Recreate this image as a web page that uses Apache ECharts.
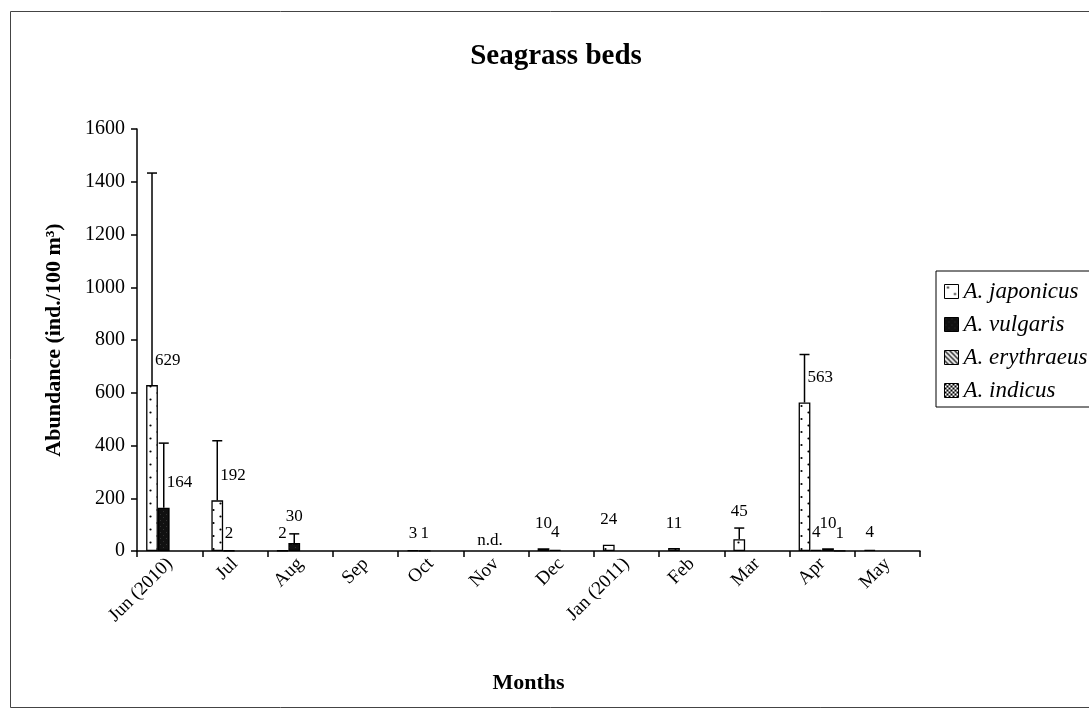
<!DOCTYPE html>
<html>
<head>
<meta charset="utf-8">
<script src="https://cdn.jsdelivr.net/npm/echarts@6/dist/echarts.min.js"></script>
<style>html,body{margin:0;padding:0;background:#fff;}#c{width:1089px;height:713px;}</style>
</head>
<body>
<div id="c"></div>
<script>
// ---- data ----
var categories = ['Jun (2010)', 'Jul', 'Aug', 'Sep', 'Oct', 'Nov', 'Dec', 'Jan (2011)', 'Feb', 'Mar', 'Apr', 'May'];
var seriesNames = ['A. japonicus', 'A. vulgaris', 'A. erythraeus', 'A. indicus'];
var japonicus  = [629, 192, 2, null, 3, null, 10, 24, 11, 45, 563, 4];
var vulgaris   = [164, 2, 30, null, 1, null, 4, null, null, null, 4, null];
var erythraeus = [null, null, null, null, null, null, null, null, null, null, 10, null];
var indicus    = [null, null, null, null, null, null, null, null, null, null, 1, null];
// upper error (SD) of each bar
var japonicusErr  = [804, 226, 0, 0, 0, 0, 0, 0, 0, 42, 182, 0];
var vulgarisErr   = [245, 0, 35, 0, 0, 0, 0, 0, 0, 0, 0, 0];
var erythraeusErr = [0, 0, 0, 0, 0, 0, 0, 0, 0, 0, 0, 0];
var indicusErr    = [0, 0, 0, 0, 0, 0, 0, 0, 0, 0, 0, 0];
var notes = ['', '', '', '', '', 'n.d.', '', '', '', '', '', ''];
var yTicks = [0, 200, 400, 600, 800, 1000, 1200, 1400, 1600];

var FONT = "'Liberation Serif', 'Times New Roman', serif";

function makeTile(w, h, draw) {
  var c = document.createElement('canvas');
  c.width = w; c.height = h;
  var ctx = c.getContext('2d');
  draw(ctx, w, h);
  return c;
}
var dotTile = makeTile(14, 13, function (ctx, w, h) {
  ctx.fillStyle = '#fff'; ctx.fillRect(0, 0, w, h);
  ctx.fillStyle = '#000';
  ctx.beginPath(); ctx.arc(3.5, 3, 1.1, 0, Math.PI * 2); ctx.fill();
  ctx.beginPath(); ctx.arc(10.5, 9.5, 1.1, 0, Math.PI * 2); ctx.fill();
});
var darkTile = makeTile(6, 6, function (ctx, w, h) {
  ctx.fillStyle = '#111'; ctx.fillRect(0, 0, w, h);
  ctx.fillStyle = '#333'; ctx.fillRect(1, 1, 1, 1); ctx.fillRect(4, 4, 1, 1);
});
var hatchTile = makeTile(5, 5, function (ctx, w, h) {
  ctx.fillStyle = '#fff'; ctx.fillRect(0, 0, w, h);
  ctx.strokeStyle = '#000'; ctx.lineWidth = 1.3;
  ctx.beginPath();
  ctx.moveTo(-1, -1); ctx.lineTo(w + 1, h + 1);
  ctx.moveTo(-1, h - 1); ctx.lineTo(1, h + 1);
  ctx.moveTo(w - 1, -1); ctx.lineTo(w + 1, 1);
  ctx.stroke();
});
var checkTile = makeTile(4, 4, function (ctx, w, h) {
  ctx.fillStyle = '#fff'; ctx.fillRect(0, 0, w, h);
  ctx.fillStyle = '#000';
  ctx.fillRect(0, 0, 2, 2); ctx.fillRect(2, 2, 2, 2);
});
var fills = [
  { image: dotTile, repeat: 'repeat' },
  { image: darkTile, repeat: 'repeat' },
  { image: hatchTile, repeat: 'repeat' },
  { image: checkTile, repeat: 'repeat' }
];

var values = [japonicus, vulgaris, erythraeus, indicus];
var errors = [japonicusErr, vulgarisErr, erythraeusErr, indicusErr];

var barSeries = values.map(function (arr, k) {
  return {
    name: seriesNames[k],
    type: 'bar',
    data: arr,
    barGap: '0%',
    barCategoryGap: '28%',
    itemStyle: { color: fills[k], borderColor: '#000', borderWidth: 1.3 },
    emphasis: { disabled: true },
    z: 2
  };
});

// error bars + value labels (custom series)
var annData = [], annText = [];
values.forEach(function (arr, k) {
  arr.forEach(function (v, i) {
    if (v === null) return;
    annData.push([i, k, v, errors[k][i], 0]);
    annText.push(String(v));
  });
});
notes.forEach(function (t, i) {
  if (!t) return;
  annData.push([i, 0, 0, 0, 1]);
  annText.push(t);
});

function renderAnn(params, api) {
  var cat = api.value(0), k = api.value(1), val = api.value(2), err = api.value(3), isNote = api.value(4);
  var text = annText[params.dataIndex];
  var base = api.coord([cat, 0]);
  var band = api.size([1, 0])[0];
  var tStyle = { fontFamily: FONT, fontSize: 17, fill: '#000' };
  if (isNote) {
    return { type: 'text', style: Object.assign({ text: text, x: base[0] - 6, y: base[1] - 10, align: 'center', verticalAlign: 'middle' }, tStyle) };
  }
  var bw = band * 0.72 / 4;
  var x = base[0] - band * 0.36 + bw * (k + 0.5);
  var top = api.coord([cat, val])[1];
  var children = [];
  var topY = top;
  if (err > 0) {
    var ey = api.coord([cat, val + err])[1];
    children.push({ type: 'line', shape: { x1: x, y1: top, x2: x, y2: ey }, style: { stroke: '#000', lineWidth: 1.5 } });
    children.push({ type: 'line', shape: { x1: x - 5, y1: ey, x2: x + 5, y2: ey }, style: { stroke: '#000', lineWidth: 1.5 } });
    topY = ey;
  }
  if (top - topY > 40) {
    children.push({ type: 'text', style: Object.assign({ text: text, x: x + 3, y: top - 25, align: 'left', verticalAlign: 'middle' }, tStyle) });
  } else {
    var lift = (err === 0 && text.length > 1) ? 8 : 0;
    children.push({ type: 'text', style: Object.assign({ text: text, x: x, y: topY - 17 - lift, align: 'center', verticalAlign: 'middle' }, tStyle) });
  }
  return { type: 'group', children: children };
}

var option = {
  backgroundColor: '#fff',
  animation: false,
  textStyle: { fontFamily: FONT },
  grid: { left: 137, right: 169, top: 129, bottom: 162 },
  legend: {
    data: seriesNames,
    orient: 'vertical',
    left: 936, top: 271,
    itemWidth: 14, itemHeight: 14, itemGap: 10,
    padding: [9, 30, 5, 8],
    borderColor: '#000', borderWidth: 1,
    icon: 'rect',
    itemStyle: { borderColor: '#000', borderWidth: 1 },
    textStyle: { fontFamily: FONT, fontStyle: 'italic', fontSize: 23, color: '#000', lineHeight: 22 },
    selectedMode: false
  },
  xAxis: {
    type: 'category',
    data: categories,
    name: 'Months',
    nameLocation: 'middle',
    nameGap: 121,
    nameTextStyle: { fontFamily: FONT, fontWeight: 'bold', fontSize: 22, color: '#000' },
    axisLine: { lineStyle: { color: '#000', width: 1.5 } },
    axisTick: { show: true, alignWithLabel: false, length: 6, lineStyle: { color: '#000', width: 1.5 } },
    axisLabel: { rotate: 45, fontFamily: FONT, fontSize: 19, color: '#000', margin: 10, interval: 0 }
  },
  yAxis: {
    type: 'value',
    min: yTicks[0], max: yTicks[yTicks.length - 1], interval: yTicks[1] - yTicks[0],
    name: 'Abundance (ind./100 m³)',
    nameLocation: 'middle',
    nameGap: 72,
    nameTextStyle: { fontFamily: FONT, fontWeight: 'bold', fontSize: 22, color: '#000' },
    axisLine: { show: true, lineStyle: { color: '#000', width: 1.5 } },
    axisTick: { show: true, length: 6, lineStyle: { color: '#000', width: 1.5 } },
    axisLabel: { fontFamily: FONT, fontSize: 20, color: '#000', margin: 12, formatter: function (v) { return String(v); } },
    splitLine: { show: false }
  },
  graphic: [
    { type: 'rect', z: -10, shape: { x: 10.5, y: 11.5, width: 1120, height: 696 }, style: { fill: 'none', stroke: '#444', lineWidth: 1 } },
    { type: 'text', z: 10, style: { x: 556, y: 57, text: 'Seagrass beds', align: 'center', verticalAlign: 'middle', fontFamily: FONT, fontWeight: 'bold', fontSize: 29, fill: '#000' } }
  ],
  series: barSeries.concat([{
    type: 'custom',
    renderItem: renderAnn,
    data: annData,
    clip: false,
    z: 5,
    silent: true,
    encode: { x: 0, y: 2 }
  }])
};

var chart = echarts.init(document.getElementById('c'), null, { renderer: 'canvas' });
chart.setOption(option);
</script>
</body>
</html>
